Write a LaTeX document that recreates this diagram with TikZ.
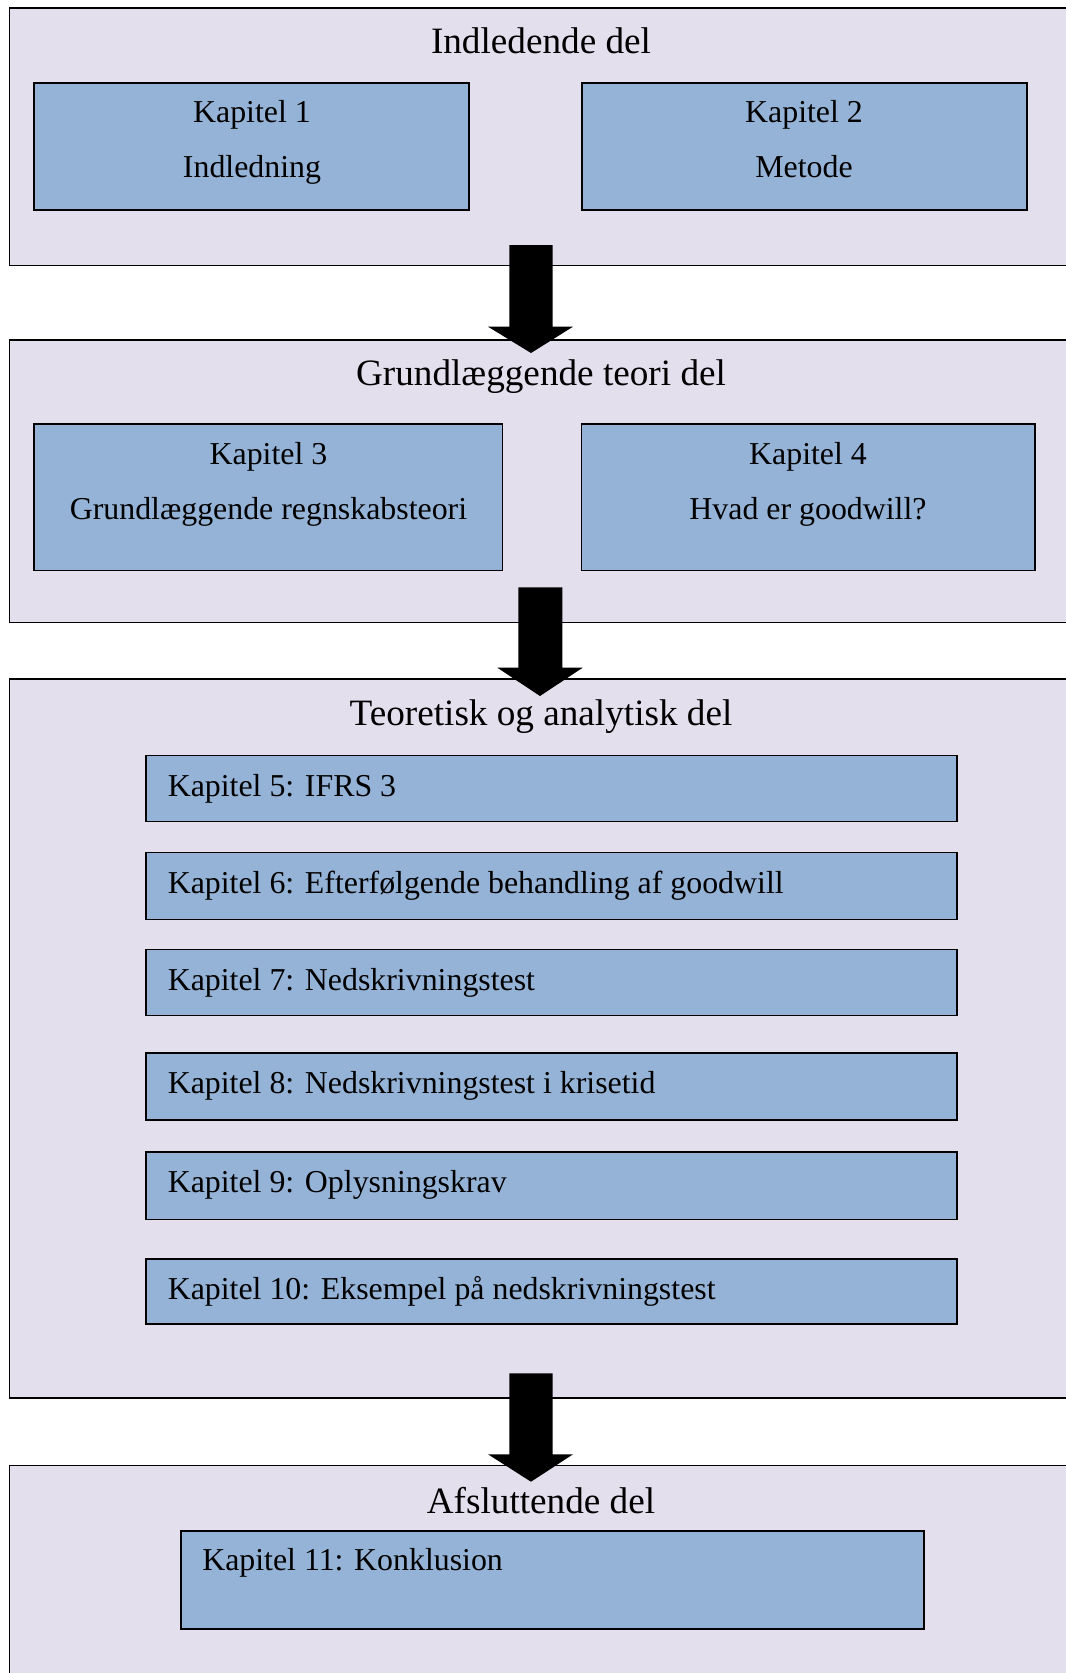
\documentclass[tikz,border=0pt]{standalone}
\usepackage{fontspec}
\setmainfont{Liberation Serif}
\usetikzlibrary{fit}
\definecolor{partfill}{HTML}{E4DFEC}
\definecolor{chapfill}{HTML}{95B3D7}
\tikzset{
  part/.style={draw=black, line width=1.4pt, fill=partfill, inner sep=0pt},
  chap/.style={draw=black, line width=1.4pt, fill=chapfill, inner sep=0pt},
  parttitle/.style={font=\fontsize{27.9}{32}\selectfont, inner sep=0pt, anchor=base},
  chaptext/.style={font=\fontsize{23.9}{28}\selectfont, inner sep=0pt, anchor=base},
  chapleft/.style={chaptext, anchor=base west},
  blockarrow/.style={fill=black},
}
\begin{document}
\begin{tikzpicture}[x=0.75pt,y=-0.75pt]
\clip (0,0) rectangle (1066,1673);
\fill[white] (0,0) rectangle (1066,1673);
% parts
\node[part, fit={(9.5,8)(1085,265.5)}] (p1) {};
\node[part, fit={(9.5,340)(1085,622.5)}] (p2) {};
\node[part, fit={(9.5,679)(1085,1398)}] (p3) {};
\node[part, fit={(9.5,1465.5)(1085,1700)}] (p4) {};
% part 1
\node[parttitle] (t1) at (541,53.5) {Indledende del};
\node[chap, fit={(34,83)(469,210)}] (k1) {};
\node[chap, fit={(582,83)(1027,210)}] (k2) {};
\node[chaptext] (k1a) at (252,123) {Kapitel 1};
\node[chaptext] (k1b) at (252,177) {Indledning};
\node[chaptext] (k2a) at (804,123) {Kapitel 2};
\node[chaptext] (k2b) at (804,177) {Metode};
% part 2
\node[parttitle] (t2) at (541,385) {Grundlæggende teori del};
\node[chap, fit={(34,424)(502.5,570.5)}] (k3) {};
\node[chap, fit={(581.5,424)(1035,570.5)}] (k4) {};
\node[chaptext] (k3a) at (268.5,464) {Kapitel 3};
\node[chaptext] (k3b) at (268.5,519) {Grundlæggende regnskabsteori};
\node[chaptext] (k4a) at (808,464) {Kapitel 4};
\node[chaptext] (k4b) at (808,519) {Hvad er goodwill?};
% part 3
\node[parttitle] (t3) at (541,725) {Teoretisk og analytisk del};
\node[chap, fit={(146,755.5)(957,821.5)}] (k5) {};
\node[chap, fit={(146,852.5)(957,919.5)}] (k6) {};
\node[chap, fit={(146,949.5)(957,1015.5)}] (k7) {};
\node[chap, fit={(146,1053)(957,1120)}] (k8) {};
\node[chap, fit={(146,1152)(957,1219.5)}] (k9) {};
\node[chap, fit={(146,1259)(957,1324)}] (k10) {};
\node[chapleft] (k5t) at (167.5,796) {Kapitel 5: IFRS 3};
\node[chapleft] (k6t) at (167.5,893) {Kapitel 6: Efterfølgende behandling af goodwill};
\node[chapleft] (k7t) at (167.5,990) {Kapitel 7: Nedskrivningstest};
\node[chapleft] (k8t) at (167.5,1093.5) {Kapitel 8: Nedskrivningstest i krisetid};
\node[chapleft] (k9t) at (167.5,1192.5) {Kapitel 9: Oplysningskrav};
\node[chapleft] (k10t) at (167.5,1299.5) {Kapitel 10: Eksempel på nedskrivningstest};
% part 4
\node[parttitle] (t4) at (541,1513.5) {Afsluttende del};
\node[chap, fit={(181,1531)(924,1629)}] (k11) {};
\node[chapleft] (k11t) at (202,1570.5) {Kapitel 11: Konklusion};
% block arrows
\fill[blockarrow] (509.3,245) -- (552.7,245) -- (552.7,326.7) -- (573,326.7) -- (531,353) -- (488,326.7) -- (509.3,326.7) -- cycle;
\fill[blockarrow] (518.3,587.3) -- (562.3,587.3) -- (562.3,667.7) -- (582.7,667.7) -- (540,696) -- (497.3,667.7) -- (518.3,667.7) -- cycle;
\fill[blockarrow] (509.3,1373.3) -- (552.7,1373.3) -- (552.7,1454.3) -- (573,1454.3) -- (531,1481.7) -- (488,1454.3) -- (509.3,1454.3) -- cycle;
\end{tikzpicture}
\end{document}
